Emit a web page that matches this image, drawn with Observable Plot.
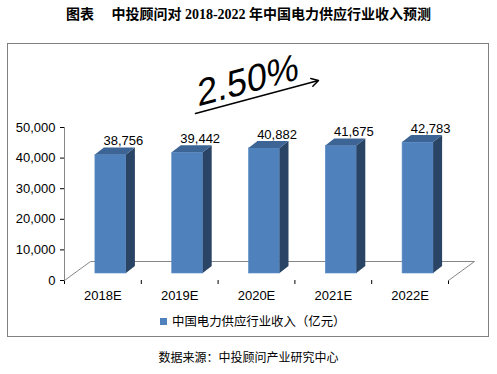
<!DOCTYPE html>
<html>
<head>
<meta charset="utf-8">
<script src="https://cdn.jsdelivr.net/npm/d3@7"></script>
<script src="https://cdn.jsdelivr.net/npm/@observablehq/plot@0.6"></script>
<style>
  html, body { margin: 0; padding: 0; background: #fff; }
  #wrap { position: relative; width: 497px; height: 374px; overflow: hidden; background: #fff; }
  #title { position: absolute; left: 0; width: 497px; top: 6px; text-align: center;
    font-family: "Liberation Serif", "Noto Sans CJK SC", serif; font-weight: 700; font-size: 14px; line-height: 18px; color: #000; }
  #frame { position: absolute; left: 7px; top: 43px; width: 480px; height: 292px; border: 1px solid #808080; }
  #chart { position: absolute; left: 0; top: 0; }
  #growth { position: absolute; left: 248px; top: 80px; width: 0; height: 0; }
  #growth span { position: absolute; left: 0; top: 0; white-space: nowrap;
    font-family: "Liberation Sans", Arial, sans-serif; font-size: 37px; line-height: 37px; color: #000;
    transform: translate(-50%, -50%) rotate(-15deg) skewX(-13deg); }
  #legend { position: absolute; left: 160px; top: 312px; font-family: "Noto Sans CJK SC", sans-serif; font-size: 12.4px; line-height: 18px; color: #000; display: flex; align-items: center; }
  #legend .sw { width: 7px; height: 7px; background: #4f81bd; margin-right: 5px; }
  #source { position: absolute; left: 0; width: 497px; top: 348px; text-align: center; font-family: "Noto Sans CJK SC", sans-serif; font-size: 12px; line-height: 18px; color: #000; }
</style>
</head>
<body>
<div id="wrap">
  <div id="title"></div>
  <div id="frame"></div>
  <div id="chart"></div>
  <div id="growth"><span id="growthtext"></span></div>
  <div id="legend"><span class="sw"></span><span id="legtext"></span></div>
  <div id="source"></div>
</div>
<script>
// ---- data ----
const years = ["2018E", "2019E", "2020E", "2021E", "2022E"];
const revenue = [38756, 39442, 40882, 41675, 42783];
const yTicks = [0, 10000, 20000, 30000, 40000, 50000];
const growthLabel = "2.50%";
const titleText = "图表\u3000 中投顾问对 2018-2022 年中国电力供应行业收入预测";
const seriesName = "中国电力供应行业收入（亿元）";
const sourceText = "数据来源：中投顾问产业研究中心";

document.getElementById("title").textContent = titleText;
document.getElementById("legtext").textContent = seriesName;
document.getElementById("source").textContent = sourceText;
document.getElementById("growthtext").textContent = growthLabel;

// ---- geometry (pixels -> data units) ----
const W = 497, H = 374, mL = 64, mR = 49, mT = 127, mB = 94;
const yMax = 50000, nCat = years.length;
const pxX = (W - mL - mR) / nCat;            // px per category unit
const pxY = (H - mT - mB) / yMax;            // px per value unit
const X = px => (px - mL) / pxX;              // page px -> x data
const Y = py => (H - mB - py) / pxY;          // page px -> y data

const barW = 31 / pxX;                        // front face width
const sideDX = 9 / pxX, sideDY = 7 / pxY;     // bar depth
const floorDX = 26 / pxX, floorDY = 19 / pxY; // floor depth
const barOffX = 8, barOffY = -7;              // bars sit inside floor

const bars = years.map((k, i) => ({k, i, v: revenue[i], xl: i + 0.5 - barW / 2, xr: i + 0.5 + barW / 2}));
const sides = bars.flatMap(b => [
  {k: b.k, x: b.xr, y1: 0, y2: b.v},
  {k: b.k, x: b.xr + sideDX, y1: sideDY, y2: b.v + sideDY}
]);
const tops = bars.flatMap(b => [
  {k: b.k, y: b.v, x1: b.xl, x2: b.xr},
  {k: b.k, y: b.v + sideDY, x1: b.xl + sideDX, x2: b.xr + sideDX}
]);
const floor = [
  {x: 0, y: 0}, {x: floorDX, y: floorDY}, {x: nCat + floorDX, y: floorDY}, {x: nCat, y: 0}
];

const chart = Plot.plot({
  width: W, height: H,
  marginLeft: mL, marginRight: mR, marginTop: mT, marginBottom: mB,
  style: {fontFamily: "'Liberation Sans', Arial, sans-serif", fontSize: "13px", color: "#000", background: "transparent", overflow: "visible"},
  x: {domain: [0, nCat], ticks: d3.range(0, nCat + 1), tickFormat: () => "", tickSize: 4, label: null},
  y: {domain: [0, yMax], ticks: yTicks, tickFormat: d3.format(","), tickSize: 4, tickPadding: 5, label: null},
  marks: [
    Plot.line(floor, {x: "x", y: "y", stroke: "#868686", strokeWidth: 1}),
    Plot.ruleX([0], {y1: 0, y2: yMax, stroke: "#868686", strokeWidth: 1}),
    Plot.rectY(bars, {x1: "xl", x2: "xr", y1: 0, y2: "v", fill: "#4f81bd", stroke: "#5d8cc6", strokeWidth: 0.6, dx: barOffX, dy: barOffY}),
    Plot.areaY(sides, {x: "x", y1: "y1", y2: "y2", z: "k", fill: "#2a4465", curve: "linear", dx: barOffX, dy: barOffY}),
    Plot.areaX(tops, {y: "y", x1: "x1", x2: "x2", z: "k", fill: "#3c6596", curve: "linear", dx: barOffX, dy: barOffY}),
    Plot.text(bars, {x: d => d.i + 0.5, y: "v", text: d => d3.format(",")(d.v), dx: 20.5, dy: -21, fontSize: 13, fill: "#000"}),
    Plot.text(bars, {x: d => d.i + 0.5, y: 0, text: "k", dy: 15, fontSize: 13, fill: "#000"}),
    Plot.arrow([{a: 1}], {x1: () => X(195), y1: () => Y(113), x2: () => X(318), y2: () => Y(80), stroke: "#000", strokeWidth: 1.5, headLength: 8})
  ]
});
document.getElementById("chart").appendChild(chart);
</script>
</body>
</html>
